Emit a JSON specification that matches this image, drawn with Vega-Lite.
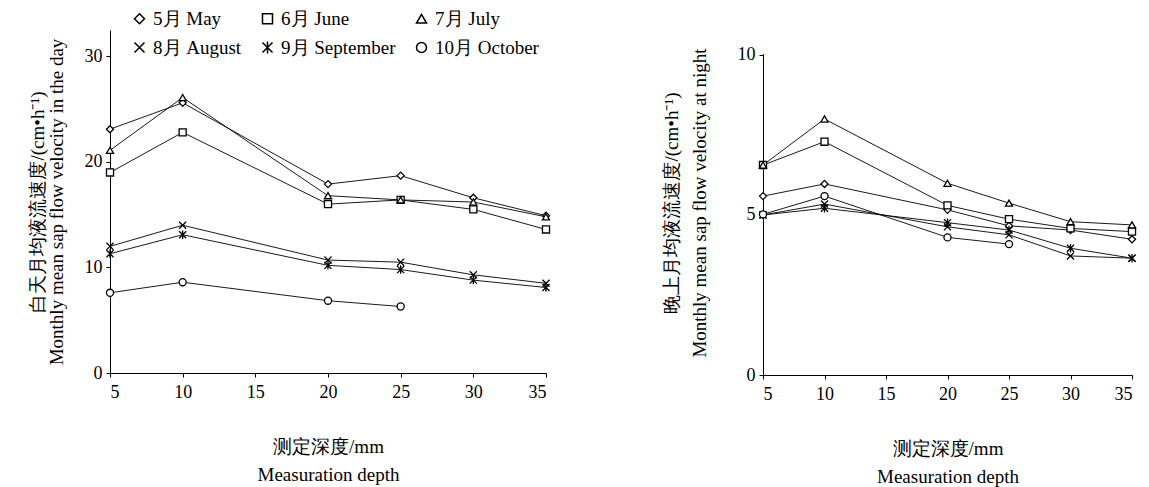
{
  "$schema": "https://vega.github.io/schema/vega-lite/v6.json",
  "padding": {"left": 28, "top": 9, "right": 5, "bottom": 5},
  "background": "white",
  "config": {
    "font": "Liberation Serif",
    "view": {"stroke": null},
    "axis": {"domainColor": "black", "domainWidth": 1, "tickColor": "black", "grid": false, "labelFont": "Liberation Serif", "labelFontSize": 18, "labelColor": "black", "titleFont": "Liberation Serif", "titleFontSize": 19, "titleFontWeight": "normal", "titleColor": "black"}
  },
  "datasets": {
    "day": [
      {"month": "5月 May", "depth": 5, "v": 23.1}, {"month": "5月 May", "depth": 10, "v": 25.6}, {"month": "5月 May", "depth": 20, "v": 17.9}, {"month": "5月 May", "depth": 25, "v": 18.7}, {"month": "5月 May", "depth": 30, "v": 16.6}, {"month": "5月 May", "depth": 35, "v": 14.9},
      {"month": "6月 June", "depth": 5, "v": 19.0}, {"month": "6月 June", "depth": 10, "v": 22.8}, {"month": "6月 June", "depth": 20, "v": 16.0}, {"month": "6月 June", "depth": 25, "v": 16.4}, {"month": "6月 June", "depth": 30, "v": 15.5}, {"month": "6月 June", "depth": 35, "v": 13.6},
      {"month": "7月 July", "depth": 5, "v": 21.1}, {"month": "7月 July", "depth": 10, "v": 26.1}, {"month": "7月 July", "depth": 20, "v": 16.8}, {"month": "7月 July", "depth": 25, "v": 16.4}, {"month": "7月 July", "depth": 30, "v": 16.2}, {"month": "7月 July", "depth": 35, "v": 14.8},
      {"month": "8月 August", "depth": 5, "v": 12.0}, {"month": "8月 August", "depth": 10, "v": 14.0}, {"month": "8月 August", "depth": 20, "v": 10.7}, {"month": "8月 August", "depth": 25, "v": 10.5}, {"month": "8月 August", "depth": 30, "v": 9.3}, {"month": "8月 August", "depth": 35, "v": 8.5},
      {"month": "9月 September", "depth": 5, "v": 11.3}, {"month": "9月 September", "depth": 10, "v": 13.1}, {"month": "9月 September", "depth": 20, "v": 10.2}, {"month": "9月 September", "depth": 25, "v": 9.8}, {"month": "9月 September", "depth": 30, "v": 8.8}, {"month": "9月 September", "depth": 35, "v": 8.1},
      {"month": "10月 October", "depth": 5, "v": 7.6}, {"month": "10月 October", "depth": 10, "v": 8.6}, {"month": "10月 October", "depth": 20, "v": 6.85}, {"month": "10月 October", "depth": 25, "v": 6.3}
    ],
    "night": [
      {"month": "5月 May", "depth": 5, "v": 5.59}, {"month": "5月 May", "depth": 10, "v": 5.97}, {"month": "5月 May", "depth": 20, "v": 5.16}, {"month": "5月 May", "depth": 25, "v": 4.66}, {"month": "5月 May", "depth": 30, "v": 4.53}, {"month": "5月 May", "depth": 35, "v": 4.24},
      {"month": "6月 June", "depth": 5, "v": 6.56}, {"month": "6月 June", "depth": 10, "v": 7.29}, {"month": "6月 June", "depth": 20, "v": 5.3}, {"month": "6月 June", "depth": 25, "v": 4.87}, {"month": "6月 June", "depth": 30, "v": 4.58}, {"month": "6月 June", "depth": 35, "v": 4.48},
      {"month": "7月 July", "depth": 5, "v": 6.56}, {"month": "7月 July", "depth": 10, "v": 8.0}, {"month": "7月 July", "depth": 20, "v": 5.99}, {"month": "7月 July", "depth": 25, "v": 5.37}, {"month": "7月 July", "depth": 30, "v": 4.79}, {"month": "7月 July", "depth": 35, "v": 4.69},
      {"month": "8月 August", "depth": 5, "v": 5.0}, {"month": "8月 August", "depth": 10, "v": 5.34}, {"month": "8月 August", "depth": 20, "v": 4.63}, {"month": "8月 August", "depth": 25, "v": 4.38}, {"month": "8月 August", "depth": 30, "v": 3.72}, {"month": "8月 August", "depth": 35, "v": 3.65},
      {"month": "9月 September", "depth": 5, "v": 5.0}, {"month": "9月 September", "depth": 10, "v": 5.21}, {"month": "9月 September", "depth": 20, "v": 4.76}, {"month": "9月 September", "depth": 25, "v": 4.53}, {"month": "9月 September", "depth": 30, "v": 3.96}, {"month": "9月 September", "depth": 35, "v": 3.65},
      {"month": "10月 October", "depth": 5, "v": 5.02}, {"month": "10月 October", "depth": 10, "v": 5.59}, {"month": "10月 October", "depth": 20, "v": 4.3}, {"month": "10月 October", "depth": 25, "v": 4.09}
    ]
  },
  "resolve": {"scale": {"shape": "independent", "x": "independent", "y": "independent"}, "legend": {"shape": "independent"}},
  "spacing": 109,
  "hconcat": [
    {
      "width": 436,
      "height": 343,
      "data": {"name": "day"},
      "encoding": {
        "x": {"field": "depth", "type": "quantitative", "scale": {"domain": [5, 35], "nice": false, "zero": false},
          "axis": {"values": [5, 10, 15, 20, 25, 30, 35], "tickSize": 4, "labelPadding": 6, "title": ["测定深度/mm", "Measuration depth"], "titlePadding": 36, "titleLineHeight": 28}},
        "y": {"field": "v", "type": "quantitative", "scale": {"domain": [0, 32.5], "nice": false},
          "axis": {"values": [0, 10, 20, 30], "tickSize": 4, "labelPadding": 4, "title": ["白天月均液流速度/(cm•h⁻¹)", "Monthly mean sap flow velocity in the day"], "titlePadding": 18, "titleLineHeight": 19}}
      },
      "layer": [
        {"mark": {"type": "line", "color": "black", "strokeWidth": 0.9}, "encoding": {"detail": {"field": "month"}}},
        {"mark": {"type": "point", "filled": false, "color": "black", "fill": "white", "fillOpacity": 1, "strokeWidth": 1.3, "size": 50, "opacity": 1},
          "encoding": {"shape": {"field": "month", "type": "nominal",
            "scale": {"domain": ["5月 May", "8月 August", "6月 June", "9月 September", "7月 July", "10月 October"],
              "range": ["diamond", "M-1,-1L1,1M-1,1L1,-1", "square", "M-1,-1L1,1M-1,1L1,-1M0,-1.2L0,1.2", "triangle-up", "circle"]},
            "legend": {"orient": "none", "legendX": 20, "legendY": -21, "columns": 3, "title": null,
              "labelFont": "Liberation Serif", "labelFontSize": 19, "labelColor": "black", "labelLimit": 300,
              "columnPadding": 16, "rowPadding": 9}}}}
      ]
    },
    {
      "width": 369,
      "height": 345,
      "data": {"name": "night"},
      "encoding": {
        "x": {"field": "depth", "type": "quantitative", "scale": {"domain": [5, 35], "nice": false, "zero": false},
          "axis": {"values": [5, 10, 15, 20, 25, 30, 35], "tickSize": 4, "labelPadding": 6, "title": ["测定深度/mm", "Measuration depth"], "titlePadding": 36, "titleLineHeight": 28}},
        "y": {"field": "v", "type": "quantitative", "scale": {"domain": [0, 10.78], "nice": false},
          "axis": {"values": [0, 5, 10], "domain": false, "tickSize": 4, "labelPadding": 4, "title": ["晚上月均液流速度/(cm•h⁻¹)", "Monthly mean sap flow velocity at night"], "titlePadding": 28, "titleLineHeight": 28}}
      },
      "layer": [
        {"mark": {"type": "rule", "color": "black", "strokeWidth": 1, "xOffset": 0.5}, "encoding": {"x": {"datum": 5}, "y": {"datum": 0}, "y2": {"datum": 10}}},
        {"mark": {"type": "line", "color": "black", "strokeWidth": 0.9}, "encoding": {"detail": {"field": "month"}}},
        {"mark": {"type": "point", "filled": false, "color": "black", "fill": "white", "fillOpacity": 1, "strokeWidth": 1.3, "size": 50, "opacity": 1},
          "encoding": {"shape": {"field": "month", "type": "nominal",
            "scale": {"domain": ["5月 May", "8月 August", "6月 June", "9月 September", "7月 July", "10月 October"],
              "range": ["diamond", "M-1,-1L1,1M-1,1L1,-1", "square", "M-1,-1L1,1M-1,1L1,-1M0,-1.2L0,1.2", "triangle-up", "circle"]},
            "legend": null}}}
      ]
    }
  ]
}
